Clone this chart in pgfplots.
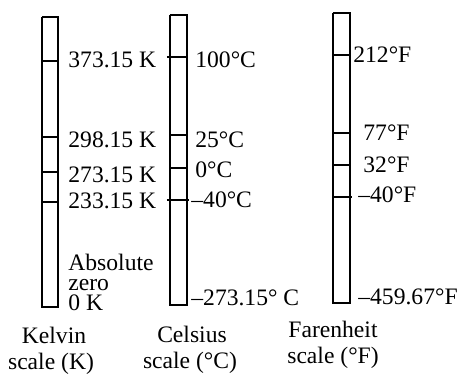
\documentclass[border=0pt]{standalone}
\usepackage{fontspec}
\setmainfont{Liberation Serif}
\usepackage{pgfplots}
\pgfplotsset{compat=1.18}
\tikzset{
  lab/.style={font=\fontsize{11.8}{12}\selectfont, inner sep=0pt, anchor=base west},
  captxt/.style={font=\fontsize{11.8}{12}\selectfont, inner sep=0pt, anchor=base},
  ln/.style={black, solid, line width=0.8pt, mark=none},
}
\begin{document}
\begin{tikzpicture}
\begin{axis}[
  scale only axis, width=231pt, height=187pt,
  xmin=0, xmax=462, ymin=0, ymax=374, y dir=reverse,
  hide axis, clip=false,
]
\path (axis cs:0,0) rectangle (axis cs:462,374);
% Kelvin tube and marks
\addplot[ln] coordinates {(42,17) (58,17) (58,307) (42,307) (42,17)};
\addplot[ln] coordinates {(42,61) (58,61)};
\addplot[ln] coordinates {(42,137) (58,137)};
\addplot[ln] coordinates {(42,172) (58,172)};
\addplot[ln] coordinates {(42,202) (58,202)};
% Celsius tube and marks
\addplot[ln] coordinates {(170,15) (187,15) (187,305) (170,305) (170,15)};
\addplot[ln] coordinates {(167,57) (187,57)};
\addplot[ln] coordinates {(170,135) (187,135)};
\addplot[ln] coordinates {(170,168) (187,168)};
\addplot[ln] coordinates {(167,200) (189,200)};
% Fahrenheit tube and marks
\addplot[ln] coordinates {(333,13) (350,13) (350,303) (333,303) (333,13)};
\addplot[ln] coordinates {(333,55) (350,55)};
\addplot[ln] coordinates {(333,133) (350,133)};
\addplot[ln] coordinates {(333,165) (350,165)};
\addplot[ln] coordinates {(333,197) (352,197)};
% Kelvin labels
\node[lab] at (axis cs:68,67) {373.15 K};
\node[lab] at (axis cs:68,147) {298.15 K};
\node[lab] at (axis cs:68,182) {273.15 K};
\node[lab] at (axis cs:68,208) {233.15 K};
\node[lab, align=left, font=\fontsize{11.8}{10}\selectfont] at (axis cs:68,310) {Absolute\\zero\\0 K};
% Celsius labels
\node[lab] at (axis cs:195,67) {100°C};
\node[lab] at (axis cs:195,147) {25°C};
\node[lab] at (axis cs:195,177) {0°C};
\node[lab] at (axis cs:191,207) {–40°C};
\node[lab] at (axis cs:191,305) {–273.15° C};
% Fahrenheit labels
\node[lab] at (axis cs:353,62) {212°F};
\node[lab] at (axis cs:363,140) {77°F};
\node[lab] at (axis cs:363,172) {32°F};
\node[lab] at (axis cs:358,202) {–40°F};
\node[lab] at (axis cs:358,304) {–459.67°F};
% captions
\node[captxt] at (axis cs:54,343) {Kelvin};
\node[captxt] at (axis cs:51,369) {scale (K)};
\node[captxt] at (axis cs:192,342) {Celsius};
\node[captxt] at (axis cs:190,368) {scale (°C)};
\node[captxt] at (axis cs:333,337) {Farenheit};
\node[captxt] at (axis cs:333,363) {scale (°F)};
\end{axis}
\end{tikzpicture}
\end{document}
